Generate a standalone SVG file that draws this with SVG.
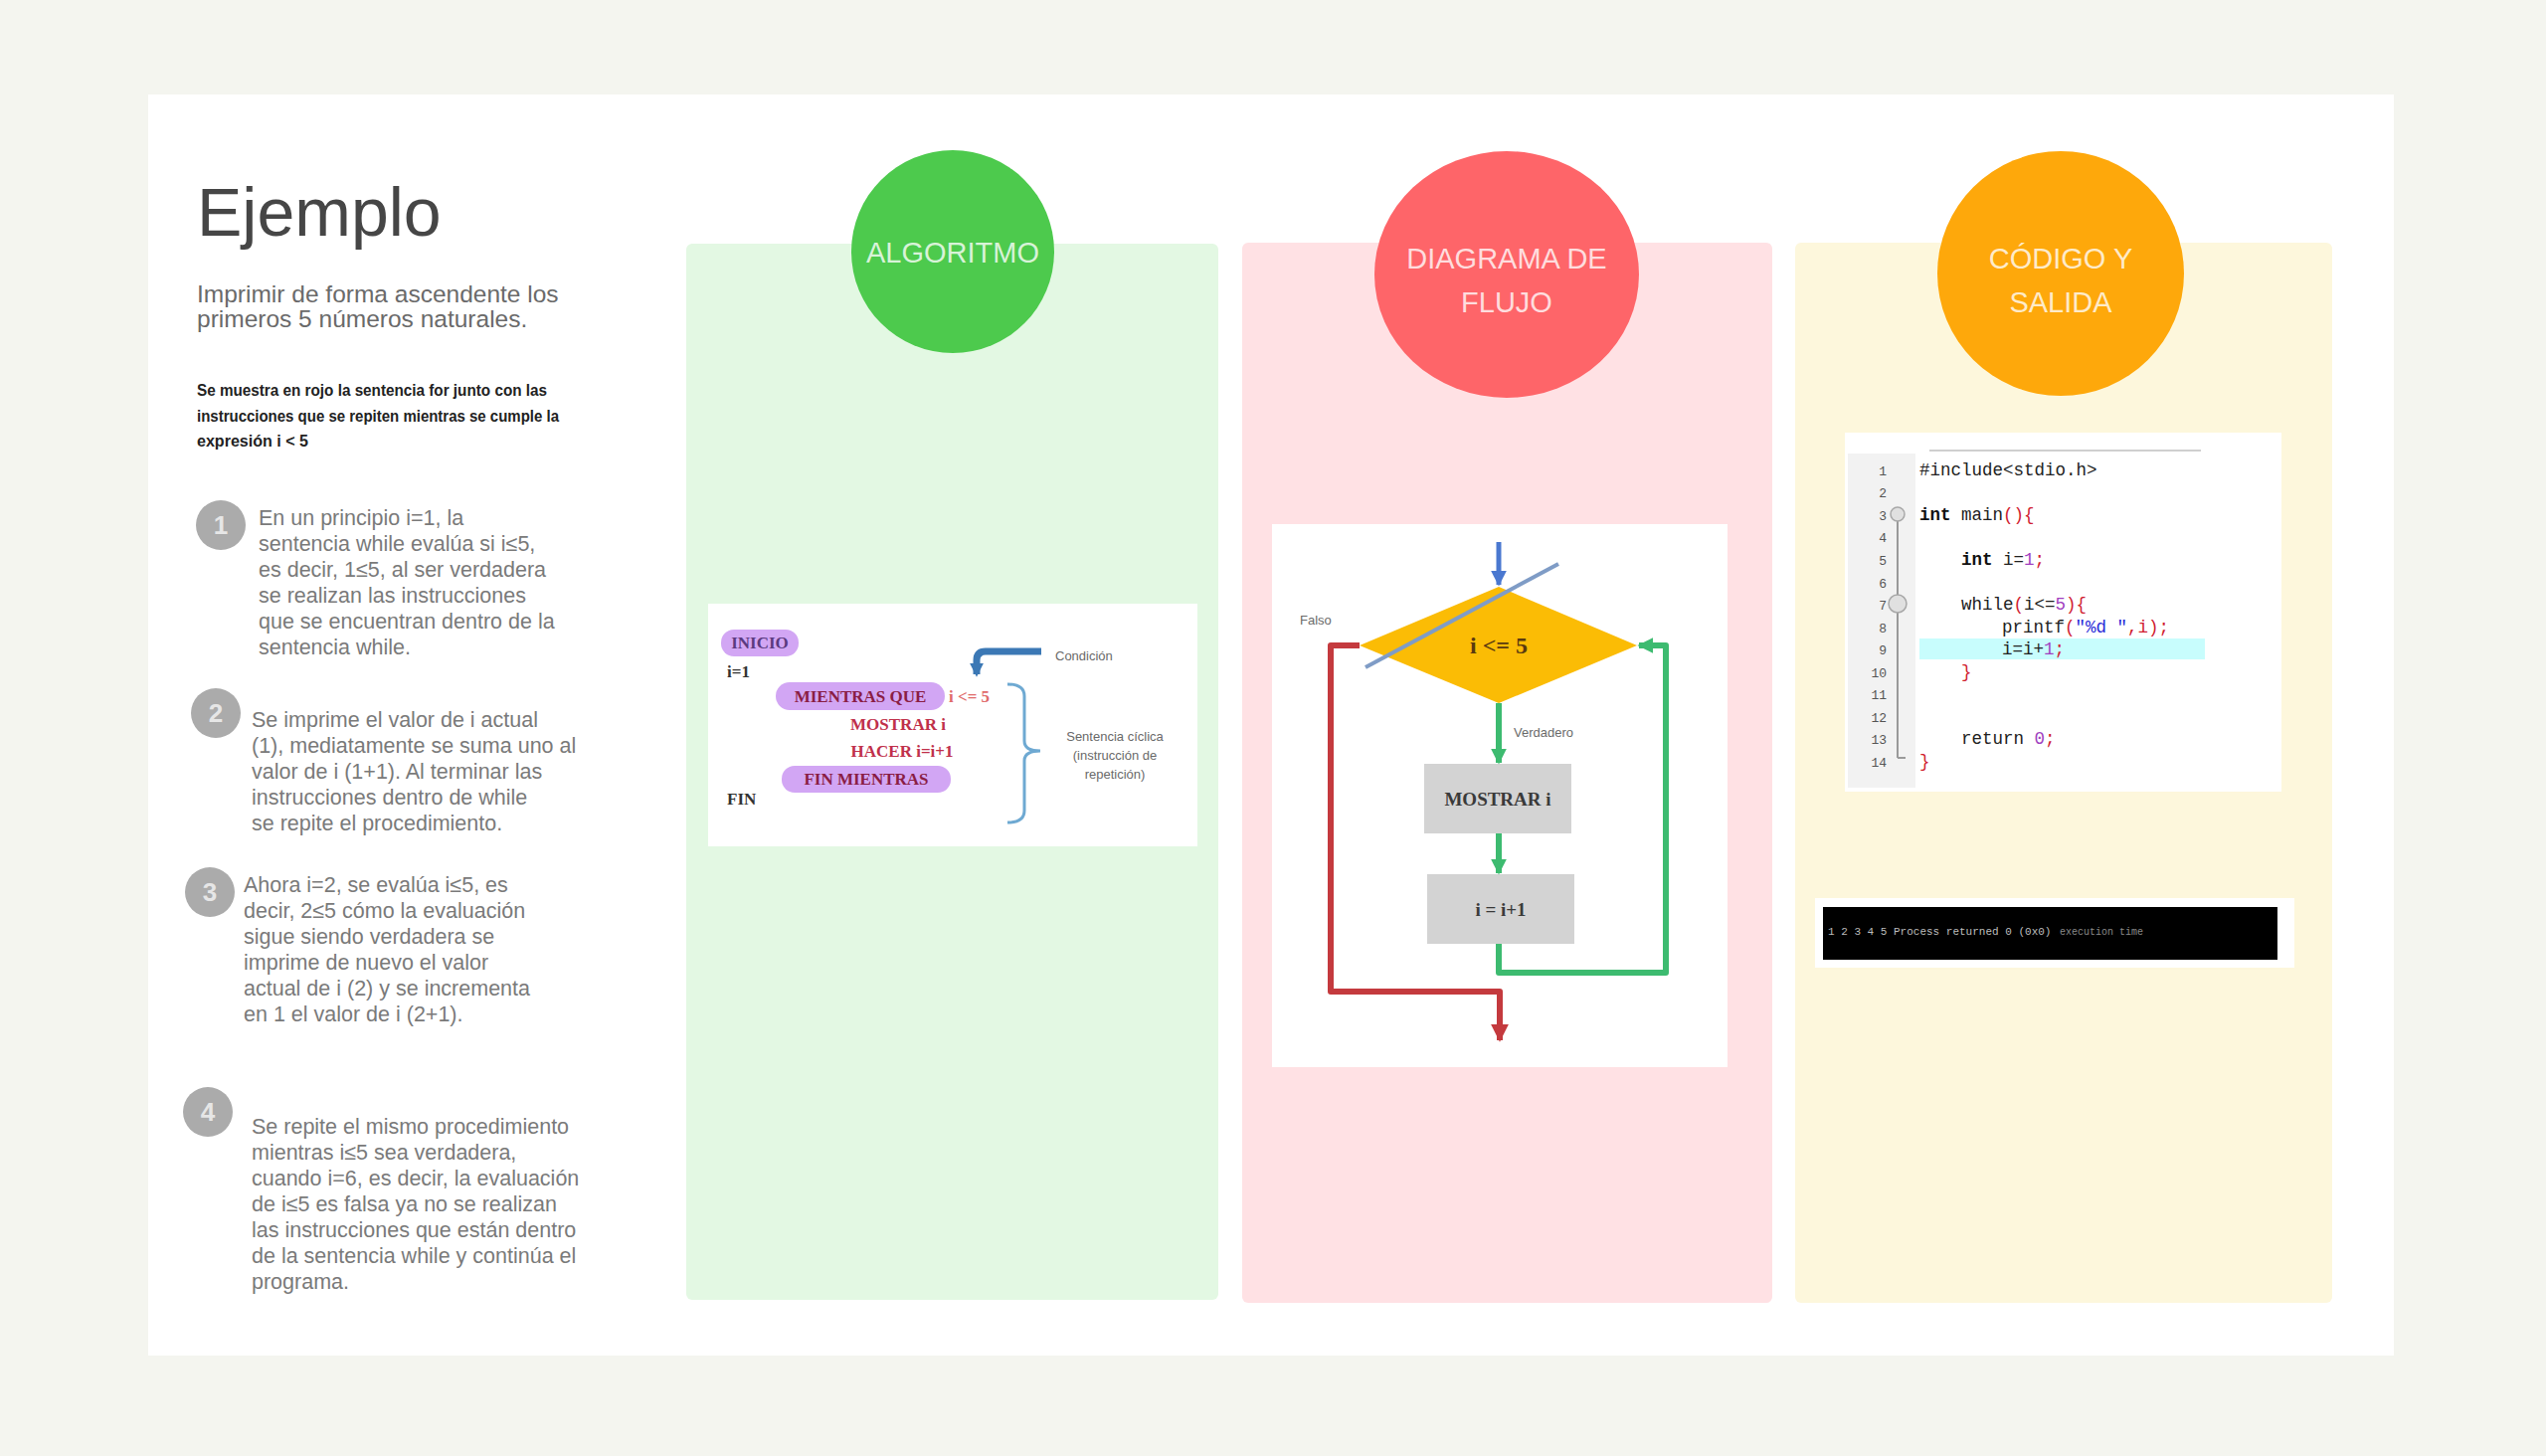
<svg xmlns="http://www.w3.org/2000/svg" width="2560" height="1464" viewBox="0 0 2560 1464">
  <defs>
    <style>
      .sans { font-family: "Liberation Sans", Arial, sans-serif; }
      .serif { font-family: "Liberation Serif", "Times New Roman", serif; }
      .mono { font-family: "Liberation Mono", "Courier New", monospace; }
      .step { font-family: "Liberation Sans", Arial, sans-serif; font-size: 21.5px; fill: #7a7a7a; }
      .badge { fill: #ababab; }
      .badge-num { font-family: "Liberation Sans", Arial, sans-serif; font-size: 26px; font-weight: bold; fill: #e6e6e6; text-anchor: middle; }
      .head { font-family: "Liberation Sans", Arial, sans-serif; font-size: 29px; fill: #ffffff; fill-opacity: 0.78; text-anchor: middle; }
      .pill { fill: #d2a6f4; }
      .alg { font-family: "Liberation Serif", "Times New Roman", serif; font-size: 17px; font-weight: bold; }
      .box { fill: #d3d3d3; }
      .boxtxt { font-family: "Liberation Serif", "Times New Roman", serif; font-size: 19px; font-weight: bold; fill: #3a3a3a; text-anchor: middle; }
      .lbl { font-family: "Liberation Sans", Arial, sans-serif; font-size: 13px; fill: #6a6a6a; }
      .ln { font-family: "Liberation Mono", "Courier New", monospace; font-size: 13px; fill: #555; text-anchor: end; }
      .code { font-family: "Liberation Mono", "Courier New", monospace; font-size: 17.5px; fill: #222; }
      .kw { font-weight: bold; fill: #111; }
      .pn { fill: #d02030; }
      .nm { fill: #a040c0; }
      .st { fill: #2a2ad8; }
      .green-line { fill: none; stroke: #3dbb70; stroke-width: 6; stroke-linejoin: round; }
      .red-line { fill: none; stroke: #c43a3e; stroke-width: 6; stroke-linejoin: round; }
    </style>
    <marker id="arrGreen" viewBox="0 0 10 10" refX="9" refY="5" markerWidth="16" markerHeight="16" markerUnits="userSpaceOnUse" orient="auto">
      <path d="M0,0 L10,5 L0,10 Z" fill="#3dbb70"/>
    </marker>
    <marker id="arrRed" viewBox="0 0 10 10" refX="9" refY="5" markerWidth="18" markerHeight="18" markerUnits="userSpaceOnUse" orient="auto">
      <path d="M0,0 L10,5 L0,10 Z" fill="#c43a3e"/>
    </marker>
    <marker id="arrBlue" viewBox="0 0 10 10" refX="9" refY="5" markerWidth="16" markerHeight="16" markerUnits="userSpaceOnUse" orient="auto">
      <path d="M0,0 L10,5 L0,10 Z" fill="#4a78d0"/>
    </marker>
    <marker id="arrCond" viewBox="0 0 10 10" refX="8" refY="5" markerWidth="14" markerHeight="14" markerUnits="userSpaceOnUse" orient="auto">
      <path d="M0,0 L10,5 L0,10 Z" fill="#3b78b5"/>
    </marker>
  </defs>

  <!-- page and card -->
  <rect x="0" y="0" width="2560" height="1464" fill="#f4f5ef"/>
  <rect x="149" y="95" width="2258" height="1268" fill="#ffffff"/>

  <!-- left column: title, statement and steps -->
  <g id="intro">
    <text class="sans" x="198" y="237" font-size="68" fill="#464646">Ejemplo</text>
    <text class="sans" x="198" y="304" font-size="24.5" fill="#6a6a6a">Imprimir de forma ascendente los</text>
    <text class="sans" x="198" y="329" font-size="24.5" fill="#6a6a6a">primeros 5 números naturales.</text>
    <text class="sans" x="198" y="398" font-size="16" font-weight="bold" fill="#222" textLength="352" lengthAdjust="spacingAndGlyphs">Se muestra en rojo la sentencia for  junto con las</text>
    <text class="sans" x="198" y="424" font-size="16" font-weight="bold" fill="#222" textLength="364" lengthAdjust="spacingAndGlyphs">instrucciones que se repiten mientras se cumple la</text>
    <text class="sans" x="198" y="449" font-size="16" font-weight="bold" fill="#222" textLength="112" lengthAdjust="spacingAndGlyphs">expresión i &lt; 5</text>
  </g>

  <g id="step1">
    <circle class="badge" cx="222" cy="528" r="25"/>
    <text class="badge-num" x="222" y="537">1</text>
    <text class="step" x="260" y="528">En un principio i=1, la</text>
    <text class="step" x="260" y="554">sentencia while evalúa si i≤5,</text>
    <text class="step" x="260" y="580">es decir, 1≤5, al ser verdadera</text>
    <text class="step" x="260" y="606">se realizan las instrucciones</text>
    <text class="step" x="260" y="632">que se encuentran dentro de la</text>
    <text class="step" x="260" y="658">sentencia while.</text>
  </g>

  <g id="step2">
    <circle class="badge" cx="217" cy="717" r="25"/>
    <text class="badge-num" x="217" y="726">2</text>
    <text class="step" x="253" y="731">Se imprime el valor de i actual</text>
    <text class="step" x="253" y="757">(1), mediatamente se suma uno al</text>
    <text class="step" x="253" y="783">valor de i (1+1). Al terminar las</text>
    <text class="step" x="253" y="809">instrucciones dentro de while</text>
    <text class="step" x="253" y="835">se repite el procedimiento.</text>
  </g>

  <g id="step3">
    <circle class="badge" cx="211" cy="897" r="25"/>
    <text class="badge-num" x="211" y="906">3</text>
    <text class="step" x="245" y="897">Ahora i=2, se evalúa i≤5, es</text>
    <text class="step" x="245" y="923">decir, 2≤5 cómo la evaluación</text>
    <text class="step" x="245" y="949">sigue siendo verdadera se</text>
    <text class="step" x="245" y="975">imprime de nuevo el valor</text>
    <text class="step" x="245" y="1001">actual de i (2) y se incrementa</text>
    <text class="step" x="245" y="1027">en 1 el valor de i (2+1).</text>
  </g>

  <g id="step4">
    <circle class="badge" cx="209" cy="1118" r="25"/>
    <text class="badge-num" x="209" y="1127">4</text>
    <text class="step" x="253" y="1140">Se repite el mismo procedimiento</text>
    <text class="step" x="253" y="1166">mientras i≤5 sea verdadera,</text>
    <text class="step" x="253" y="1192">cuando i=6, es decir, la evaluación</text>
    <text class="step" x="253" y="1218">de i≤5 es falsa ya no se realizan</text>
    <text class="step" x="253" y="1244">las instrucciones que están dentro</text>
    <text class="step" x="253" y="1270">de la sentencia while y continúa el</text>
    <text class="step" x="253" y="1296">programa.</text>
  </g>

  <!-- column panels -->
  <g id="panel-algoritmo">
    <rect x="690" y="245" width="535" height="1062" rx="6" fill="#e3f8e3"/>
    <ellipse cx="958" cy="253" rx="102" ry="102" fill="#4dca4d"/>
    <text class="head" x="958" y="264" font-size="28">ALGORITMO</text>
  </g>
  <g id="panel-diagrama">
    <rect x="1249" y="244" width="533" height="1066" rx="6" fill="#ffe1e4"/>
    <ellipse cx="1515" cy="276" rx="133" ry="124" fill="#fe6569"/>
    <text class="head" x="1515" y="270">DIAGRAMA DE</text>
    <text class="head" x="1515" y="314">FLUJO</text>
  </g>
  <g id="panel-codigo">
    <rect x="1805" y="244" width="540" height="1066" rx="6" fill="#fdf7dc"/>
    <ellipse cx="2072" cy="275" rx="124" ry="123" fill="#fea80b"/>
    <text class="head" x="2072" y="270">CÓDIGO Y</text>
    <text class="head" x="2072" y="314">SALIDA</text>
  </g>

  <!-- pseudocode -->
  <g id="algoritmo">
    <rect x="712" y="607" width="492" height="244" fill="#ffffff"/>
    <rect class="pill" x="725" y="633" width="78" height="27" rx="13"/>
    <text class="alg" x="764" y="652" fill="#5b3a80" text-anchor="middle" font-size="15">INICIO</text>
    <text class="alg" x="731" y="681" fill="#333" font-weight="normal">i=1</text>
    <rect class="pill" x="780" y="686" width="170" height="28" rx="14"/>
    <text class="alg" x="865" y="706" fill="#8a1d45" text-anchor="middle" font-size="16">MIENTRAS QUE</text>
    <text class="alg" x="954" y="706" fill="#e06a6a" font-weight="normal" font-size="16">i &lt;= 5</text>
    <text class="alg" x="903" y="734" fill="#c0304a" text-anchor="middle" font-size="17">MOSTRAR i</text>
    <text class="alg" x="907" y="761" fill="#c0304a" text-anchor="middle" font-size="17">HACER i=i+1</text>
    <rect class="pill" x="786" y="770" width="170" height="27" rx="13"/>
    <text class="alg" x="871" y="789" fill="#8a1d45" text-anchor="middle" font-size="15">FIN MIENTRAS</text>
    <text class="alg" x="731" y="809" fill="#333" font-size="16">FIN</text>
    <path d="M1047,655 H991 Q982,655 982,664 V678" fill="none" stroke="#3b78b5" stroke-width="7" marker-end="url(#arrCond)"/>
    <text class="lbl" x="1061" y="664" font-size="12">Condición</text>
    <path d="M1013,688 Q1030,688 1030,700 V745 Q1030,755 1046,755 Q1030,755 1030,765 V815 Q1030,827 1013,827" fill="none" stroke="#6ea9d2" stroke-width="3"/>
    <text class="lbl" x="1121" y="745" font-size="10.5" text-anchor="middle">Sentencia cíclica</text>
    <text class="lbl" x="1121" y="764" font-size="10.5" text-anchor="middle">(instrucción de</text>
    <text class="lbl" x="1121" y="783" font-size="10.5" text-anchor="middle">repetición)</text>
  </g>

  <!-- flowchart -->
  <rect x="1279" y="527" width="458" height="546" fill="#ffffff"/>
  <g id="decision">
    <polygon points="1507,590 1646,649 1507,707 1367,649" fill="#fbbc05"/>
    <line x1="1373" y1="671" x2="1567" y2="567" stroke="#7f9cc6" stroke-width="4"/>
    <text class="serif" x="1507" y="657" font-size="24" font-weight="bold" fill="#5a3a10" text-anchor="middle">i &lt;= 5</text>
  </g>
  <g id="mostrar">
    <rect class="box" x="1432" y="768" width="148" height="70"/>
    <text class="boxtxt" x="1506" y="810">MOSTRAR i</text>
  </g>
  <g id="incremento">
    <rect class="box" x="1435" y="879" width="148" height="70"/>
    <text class="boxtxt" x="1509" y="921" font-weight="normal" font-size="18">i = i+1</text>
  </g>
  <g id="connectors">
    <line x1="1507" y1="545" x2="1507" y2="588" stroke="#4a78d0" stroke-width="5" marker-end="url(#arrBlue)"/>
    <line x1="1507" y1="707" x2="1507" y2="767" class="green-line" marker-end="url(#arrGreen)"/>
    <line x1="1507" y1="838" x2="1507" y2="878" class="green-line" marker-end="url(#arrGreen)"/>
    <path d="M1507,949 V978 H1675 V649 H1648" class="green-line" marker-end="url(#arrGreen)"/>
    <path d="M1367,649 H1338 V997 H1508 V1046" class="red-line" marker-end="url(#arrRed)"/>
    <text class="lbl" x="1307" y="628">Falso</text>
    <text class="lbl" x="1522" y="741">Verdadero</text>
  </g>

  <!-- source listing -->
  <g id="codigo">
    <rect x="1855" y="435" width="439" height="361" fill="#ffffff"/>
    <rect x="1858" y="456" width="68" height="336" fill="#f2f2f2"/>
    <line x1="1940" y1="453" x2="2213" y2="453" stroke="#cfcfcf" stroke-width="2"/>
    <line x1="1908" y1="517" x2="1908" y2="762" stroke="#9a9a9a" stroke-width="2"/>
    <line x1="1908" y1="762" x2="1916" y2="762" stroke="#9a9a9a" stroke-width="2"/>
    <circle cx="1908" cy="517" r="7" fill="#e0e0e0" stroke="#a8a8a8" stroke-width="1.5"/>
    <circle cx="1908" cy="607" r="9" fill="#e0e0e0" stroke="#a8a8a8" stroke-width="1.5"/>
    <rect x="1930" y="642" width="287" height="21" fill="#c8fdfd"/>
    <text class="ln" x="1897" y="478">1</text>
    <text class="ln" x="1897" y="500">2</text>
    <text class="ln" x="1897" y="523">3</text>
    <text class="ln" x="1897" y="545">4</text>
    <text class="ln" x="1897" y="568">5</text>
    <text class="ln" x="1897" y="591">6</text>
    <text class="ln" x="1897" y="613">7</text>
    <text class="ln" x="1897" y="636">8</text>
    <text class="ln" x="1897" y="658">9</text>
    <text class="ln" x="1897" y="681">10</text>
    <text class="ln" x="1897" y="703">11</text>
    <text class="ln" x="1897" y="726">12</text>
    <text class="ln" x="1897" y="748">13</text>
    <text class="ln" x="1897" y="771">14</text>
    <text class="code" x="1930" y="478" fill="#2f9a2f">#include&lt;stdio.h&gt;</text>
    <text class="code" x="1930" y="523"><tspan class="kw">int</tspan> main<tspan class="pn">(){</tspan></text>
    <text class="code" x="1972" y="568"><tspan class="kw">int</tspan> i=<tspan class="nm">1</tspan><tspan class="pn">;</tspan></text>
    <text class="code" x="1972" y="613">while<tspan class="pn">(</tspan>i&lt;=<tspan class="nm">5</tspan><tspan class="pn">){</tspan></text>
    <text class="code" x="2013" y="636">printf<tspan class="pn">(</tspan><tspan class="st">"%d "</tspan><tspan class="pn">,i);</tspan></text>
    <text class="code" x="2013" y="658">i=i+<tspan class="nm">1</tspan><tspan class="pn">;</tspan></text>
    <text class="code pn" x="1972" y="681">}</text>
    <text class="code" x="1972" y="748">return <tspan class="nm">0</tspan><tspan class="pn">;</tspan></text>
    <text class="code pn" x="1930" y="771">}</text>
  </g>

  <!-- program output -->
  <g id="salida">
    <rect x="1825" y="903" width="482" height="70" fill="#ffffff"/>
    <rect x="1833" y="912" width="457" height="53" fill="#000000"/>
    <text class="mono" x="1838" y="940" font-size="11" fill="#bdbdbd">1 2 3 4 5 Process returned 0 (0x0)</text>
    <text class="mono" x="2071" y="940" font-size="10" fill="#8a8a8a">execution time</text>
  </g>
</svg>
